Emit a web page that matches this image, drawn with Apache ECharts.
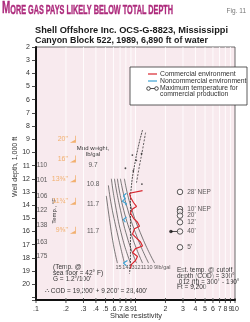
<!DOCTYPE html>
<html><head><meta charset="utf-8">
<script src="https://cdn.jsdelivr.net/npm/echarts@6/dist/echarts.min.js"></script>
<style>html,body{margin:0;padding:0;background:#fff}#c{width:250px;height:322px}</style>
</head><body><div id="c"></div>
<script>
// ---- data ----
const xTickValues = [0.1,0.2,0.3,0.4,0.5,0.6,0.7,0.8,0.9,1,2,3,4,5,6,7,8,9,10];
const xTickLabels = ['.1','.2','.3','.4','.5','.6','.7','.8','.9','1','2','3','4','5','6','7','8','9','10'];

const tempDepths = [11, 12.1, 13.3, 14.4, 15.5, 16.8, 17.9];
const tempValues = ['110','101','106','122','138','163','175'];

const mudDepths = [11, 12.4, 13.9, 16.0];
const mudValues = ['9.7','10.8','11.7','11.7'];

const casingDepths = [9, 10.5, 12.0, 13.7, 15.9];
const casingSizes = ['20"','16"','13⅜"','11¾"','9⅝"'];

const mudLine15 = [[0.509,13.3],[0.546,15],[0.600,17],[0.658,18.4]];
const mudLine14 = [[0.534,12.5],[0.572,14],[0.674,16.5],[0.774,18.4]];
const mudLine13 = [[0.572,12],[0.628,14],[0.739,16.5],[0.890,18.4]];
const mudLine12 = [[0.614,12],[0.689,14],[0.830,16.5],[1.023,18.4]];
const mudLine11 = [[0.658,12],[0.739,14],[0.933,16.5],[1.177,18.4]];
const mudLine10 = [[0.705,12],[0.811,14],[1.047,16.5],[1.354,18.4]];
const mudLine9  = [[0.774,12],[0.890,14],[1.177,16.5],[1.556,18.4]];
const mudLineX = [0.674,0.792,0.911,1.047,1.205,1.385,1.592,1.93];
const mudLineText = ['15','14','13','12','11','10','9','lb/gal'];

const resistivityA = [[1.177,8.3],[1.072,9.5],[0.977,11],[0.911,12.5],[0.890,14],[0.890,16],[0.890,18],[0.870,19.2]];
const resistivityB = [[1.262,8.5],[1.177,9.8],[1.097,11],[1.023,12.3]];
const shaleMarks = [[1.15,10.1],[1.16,12.4],[1.02,10.6],[0.95,11.4],[0.93,10.2],[0.792,11.2]];

const commercial = [[1.177,12.9],[0.870,13.1],[0.890,13.4],[0.955,13.8],[1.023,14.1],[0.933,14.3],[0.890,14.6],[0.955,15.0],[1.047,15.3],[1.097,15.6],[0.977,15.8],[0.933,16.2],[1.023,16.5],[1.123,16.8],[1.177,17.1],[1.0,17.3],[0.933,17.6],[1.047,17.9],[1.0,18.2],[0.911,18.5],[0.890,18.8]];
const nonCommercialA = [[0.811,13.1],[0.756,13.3],[0.792,13.5],[0.739,13.7],[0.811,13.9],[0.792,14.0]];
const nonCommercialB = [[0.811,14.9],[0.756,15.1],[0.792,15.3]];
const nonCommercialC = [[0.830,18.2],[0.756,18.4],[0.811,18.6]];

const payDepths = [13.0, 14.3, 14.5, 14.8, 15.3, 16.0, 17.2];
const payLabels = ["28' NEP","10' NEP","","20'","12'","40'","5'"];
const payRes = 2.80;
const maxTempLink = [[2.27,16.0],[2.80,16.0]];

// ---- chart ----
const F = 'Liberation Sans, Arial, sans-serif';
const RED = '#d8262e', BLUE = '#3ea3d3', ORANGE = '#f0a04e', MAG = '#ad2a7c';
const chart = echarts.init(document.getElementById('c'));
const mc = document.createElement('canvas').getContext('2d');
function fit(text, font, w){ mc.font = font; return w / mc.measureText(text).width; }

const textScatter = (data, fmt, opts) => Object.assign({
  type:'scatter', data, symbolSize:1, itemStyle:{color:'rgba(0,0,0,0)'}, z:5, silent:true,
  label:{show:true, formatter:fmt, position:'inside', color:'#333', fontSize:6.5, fontFamily:F}
}, opts||{});

const mudLineSeries = [mudLine15,mudLine14,mudLine13,mudLine12,mudLine11,mudLine10,mudLine9].map(d => ({
  type:'line', data:d, smooth:true, symbol:'none', lineStyle:{color:'#444', width:0.7}, z:3
}));

const tFontA = 'bold 17px "Liberation Sans Narrow", "Liberation Sans", Arial';
const tFontB = 'bold 12.5px "Liberation Sans Narrow", "Liberation Sans", Arial';
const titleRest = 'ORE GAS PAYS LIKELY BELOW TOTAL DEPTH';
mc.font = tFontA; const wM = mc.measureText('M').width;
mc.font = tFontB; const wR = mc.measureText(titleRest).width;
const titleScale = 171 / (wM + wR);

const sub1 = 'Shell Offshore Inc. OCS-G-8823, Mississippi';
const sub2 = 'Canyon Block 522, 1989, 6,890 ft of water';
const subFont = 'bold 9.5px ' + F;

chart.setOption({
  animation:false,
  grid:{left:36, right:15, top:47, bottom:22, show:true, backgroundColor:'#f8eaee', borderColor:'#444', borderWidth:0.8},
  xAxis:{type:'log', logBase:10, min:0.1, max:10, axisLabel:{show:false}, axisTick:{show:false}, splitLine:{show:false},
    axisLine:{lineStyle:{color:'#111', width:2}}},
  yAxis:{type:'value', inverse:true, min:2, max:21.2, interval:1,
    axisLine:{lineStyle:{color:'#111', width:2}},
    axisTick:{length:4, lineStyle:{color:'#222', width:0.8}},
    axisLabel:{fontSize:7, color:'#333', fontFamily:F, margin:6,
      formatter:v => (v <= 20 && Math.abs(v - Math.round(v)) < 1e-6) ? String(v) : ''},
    splitLine:{show:false}},
  series:[
    {type:'custom', z:1, clip:false, silent:true, data:xTickValues.map(v => [v, 21.2]),
      renderItem:(params, api) => {
        const v = api.value(0);
        const top = api.coord([v, 2]);
        const bot = api.coord([v, 21.2]);
        const i = params.dataIndex;
        const inner = i > 0 && i < xTickValues.length - 1;
        return {type:'group', children:[
          {type:'line', shape:{x1:top[0], y1:top[1], x2:bot[0], y2:bot[1]},
            style:{stroke: inner ? 'rgba(255,255,255,0.85)' : 'rgba(0,0,0,0)', lineWidth:1}},
          {type:'line', shape:{x1:bot[0], y1:bot[1]-2, x2:bot[0], y2:bot[1]+3}, style:{stroke:'#222', lineWidth:0.8}},
          {type:'text', x:bot[0], y:bot[1]+9, style:{text:xTickLabels[i], fill:'#333', font:'7px ' + F, align:'center', verticalAlign:'middle'}}
        ]};
      }},
    ...mudLineSeries,
    {type:'line', data:resistivityA, smooth:true, symbol:'none', lineStyle:{color:'#222', width:0.8, type:[2,1]}, z:4},
    {type:'line', data:resistivityB, smooth:true, symbol:'none', lineStyle:{color:'#222', width:0.7, type:[2,1.5]}, z:4},
    {type:'scatter', data:shaleMarks, symbol:'circle', symbolSize:1.8, itemStyle:{color:'#222'}, z:4},
    {type:'line', data:commercial, symbol:'none', lineStyle:{color:RED, width:1.2}, z:6},
    {type:'line', data:nonCommercialA, symbol:'none', lineStyle:{color:BLUE, width:1.2}, z:6},
    {type:'line', data:nonCommercialB, symbol:'none', lineStyle:{color:BLUE, width:1.2}, z:6},
    {type:'line', data:nonCommercialC, symbol:'none', lineStyle:{color:BLUE, width:1.2}, z:6},
    {type:'line', data:maxTempLink, symbol:'none', lineStyle:{color:'#222', width:0.8}, z:6},
    {type:'scatter', data:[maxTempLink[0]], symbol:'circle', symbolSize:3.5, itemStyle:{color:'#111'}, z:7},
    {type:'scatter', data:payDepths.map(d => [payRes, d]), symbol:'circle', symbolSize:5.5,
      itemStyle:{color:'#fbf4f5', borderColor:'#333', borderWidth:1}, z:7,
      label:{show:true, position:'right', distance:4, formatter:p => payLabels[p.dataIndex], fontSize:6.5, color:'#333', fontFamily:F}},
    {type:'scatter', data:casingDepths.map(d => [0.235, d]), symbol:'path://M9,0 L10,0 L10,12 L2,12 L9,7 Z', symbolSize:[6,7],
      itemStyle:{color:ORANGE}, z:7,
      label:{show:true, position:'left', distance:2, formatter:p => casingSizes[p.dataIndex], fontSize:7, color:ORANGE, fontFamily:F}},
    textScatter(tempDepths.map(d => [0.115, d]), p => tempValues[p.dataIndex], {}),
    textScatter(mudDepths.map(d => [0.374, d]), p => mudValues[p.dataIndex], {}),
    textScatter(mudLineX.map(x => [x, 18.75]), p => mudLineText[p.dataIndex], {label:{show:true, formatter:p => mudLineText[p.dataIndex], position:'inside', color:'#333', fontSize:5.5, fontFamily:F}})
  ],
  graphic:[
    {type:'text', x:2, y:17, scaleX:titleScale, style:{text:'{a|M}{b|' + titleRest + '}', verticalAlign:'bottom', rich:{
      a:{font:tFontA, fill:MAG, stroke:MAG, lineWidth:0.4, verticalAlign:'bottom'},
      b:{font:tFontB, fill:MAG, stroke:MAG, lineWidth:0.4, verticalAlign:'bottom'}}}},
    {type:'text', x:246, y:11, style:{text:'Fig. 11', font:'6.5px ' + F, fill:'#777', align:'right', verticalAlign:'middle'}},
    {type:'text', x:35, y:30, scaleX:fit(sub1, subFont, 193), style:{text:sub1, font:subFont, fill:'#1a1a1a', verticalAlign:'middle'}},
    {type:'text', x:35, y:40, scaleX:fit(sub2, subFont, 173), style:{text:sub2, font:subFont, fill:'#1a1a1a', verticalAlign:'middle'}},
    {type:'text', x:15, y:167, rotation:Math.PI/2, style:{text:'Well depth, 1,000 ft', font:'7px ' + F, fill:'#333', align:'center', verticalAlign:'middle'}},
    {type:'text', x:54, y:211, rotation:Math.PI/2, style:{text:'Temp., °F', font:'6px ' + F, fill:'#333', align:'center', verticalAlign:'middle'}},
    {type:'text', x:136, y:316, style:{text:'Shale resistivity', font:'7.5px ' + F, fill:'#333', align:'center', verticalAlign:'middle'}},
    {type:'text', x:93, y:151, style:{text:'Mud weight,\nlb/gal', font:'6px ' + F, fill:'#333', align:'center', verticalAlign:'middle', lineHeight:6}},
    {type:'text', x:53, y:273, style:{text:'(Temp. @\nsea floor = 42° F)\nG = 1.2°/100\'', font:'6.5px ' + F, fill:'#333', verticalAlign:'middle', lineHeight:6}},
    {type:'text', x:45, y:291, style:{text:'∴ COD = 19,200\' + 9,200\' = 28,400\'', font:'6.5px ' + F, fill:'#333', verticalAlign:'middle'}},
    {type:'text', x:177, y:279, style:{text:'Est. temp. @ cutoff\ndepth (COD) = 300°\n.012 (ft) = 300° - 190°\nFt = 9,200', font:'6.5px ' + F, fill:'#333', verticalAlign:'middle', lineHeight:5.8}},
    {type:'rect', shape:{x:130, y:67, width:117, height:38}, style:{fill:'#fff', stroke:'#333', lineWidth:0.8}, z:10},
    {type:'line', shape:{x1:148, y1:74, x2:157, y2:74}, style:{stroke:RED, lineWidth:1.2}, z:11},
    {type:'text', x:160, y:74, style:{text:'Commercial environment', font:'6.8px ' + F, fill:'#333', verticalAlign:'middle'}, z:11},
    {type:'line', shape:{x1:148, y1:81, x2:157, y2:81}, style:{stroke:BLUE, lineWidth:1.2}, z:11},
    {type:'text', x:160, y:81, style:{text:'Noncommercial environment', font:'6.8px ' + F, fill:'#333', verticalAlign:'middle'}, z:11},
    {type:'line', shape:{x1:149, y1:88.5, x2:156, y2:88.5}, style:{stroke:'#222', lineWidth:0.8}, z:11},
    {type:'circle', shape:{cx:148.5, cy:88.5, r:1.8}, style:{fill:'#fff', stroke:'#222', lineWidth:0.8}, z:12},
    {type:'circle', shape:{cx:156.5, cy:88.5, r:1.8}, style:{fill:'#fff', stroke:'#222', lineWidth:0.8}, z:12},
    {type:'text', x:160, y:91.5, style:{text:'Maximum temperature for\ncommercial production', font:'6.8px ' + F, fill:'#333', verticalAlign:'middle', lineHeight:6}, z:11}
  ]
});
</script></body></html>
